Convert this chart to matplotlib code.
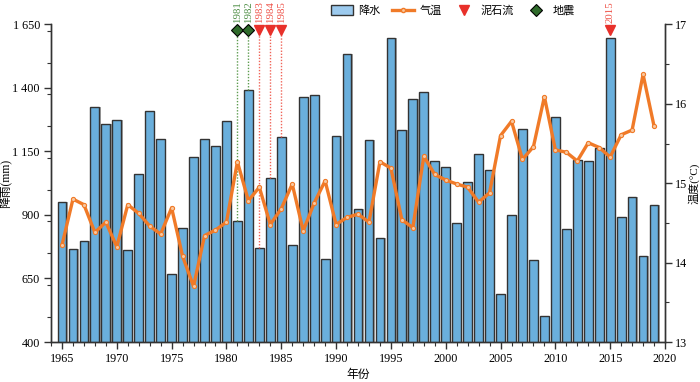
import numpy as np
import matplotlib
matplotlib.use("Agg")
import matplotlib.pyplot as plt
from matplotlib.patches import Patch
from matplotlib.lines import Line2D
from matplotlib.ticker import MultipleLocator

plt.rcParams["font.family"] = ["Liberation Serif", "Noto Sans CJK SC"]
plt.rcParams["axes.unicode_minus"] = False

# annual series 1965-2019
years = np.arange(1965, 2020)
rain = [952, 766, 797, 1325, 1258, 1274, 763, 1062, 1310, 1201,
        666, 849, 1129, 1200, 1173, 1270, 877, 1393, 771, 1047,
        1205, 782, 1363, 1373, 725, 1211, 1532, 925, 1195, 809,
        1597, 1235, 1356, 1384, 1112, 1087, 867, 1031, 1141, 1079,
        588, 901, 1238, 724, 504, 1284, 846, 1115, 1114, 1165,
        1597, 891, 969, 740, 938]
temp = [14.22, 14.80, 14.73, 14.38, 14.51, 14.20, 14.73, 14.62, 14.46, 14.36,
        14.69, 14.08, 13.70, 14.34, 14.41, 14.51, 15.27, 14.78, 14.95, 14.48,
        14.68, 14.99, 14.40, 14.75, 15.03, 14.48, 14.57, 14.61, 14.51, 15.27,
        15.19, 14.54, 14.44, 15.34, 15.11, 15.04, 14.99, 14.95, 14.76, 14.88,
        15.60, 15.78, 15.30, 15.46, 16.09, 15.42, 15.39, 15.28, 15.51, 15.45,
        15.33, 15.61, 15.67, 16.37, 15.72]

# events
quake_years = [1981, 1982]
flow_years = [1983, 1984, 1985, 2015]
event_level = 1628

rain_ticks = [400, 650, 900, 1150, 1400, 1650]
rain_tick_labels = ["400", "650", "900", "1 150", "1 400", "1 650"]
temp_ticks = [13, 14, 15, 16, 17]
year_ticks = [1965, 1970, 1975, 1980, 1985, 1990, 1995, 2000, 2005, 2010, 2015, 2020]

BAR = "#6AAFDC"
ORANGE = "#F07A28"
GREEN = "#2F6B2B"
GREEN_TXT = "#4E8E45"
RED = "#E8302A"
RED_TXT = "#EE5046"
TICK_FS = 8.7
LAB_FS = 8.5

fig = plt.figure(figsize=(7, 3.82), dpi=100)
ax = fig.add_axes([0.0729, 0.1047, 0.8771, 0.8313])
ax2 = ax.twinx()

rain_of = dict(zip(years, rain))

# bars with a thin grey shadow
ax.bar(years + 0.12, rain, width=0.8, color="#A8A8A8", zorder=1, linewidth=0)
ax.bar(years, rain, width=0.8, color=BAR, edgecolor="#333333", linewidth=1.0, zorder=2)

# event markers, dotted drop lines, year labels
for y in quake_years:
    ax.plot([y, y], [rain_of[y], event_level], ls=(0, (1, 1.2)), color="#5E9C50", lw=1.0, zorder=3)
    ax.plot(y, event_level, marker="D", ms=6, color=GREEN, mec="black", mew=0.8, zorder=5, clip_on=False)
    ax.annotate(str(y), (y, event_level), xytext=(0, 5), textcoords="offset points",
                rotation=90, ha="center", va="bottom", fontsize=7.8, color=GREEN_TXT,
                annotation_clip=False)
for y in flow_years:
    if rain_of[y] < event_level - 40:
        ax.plot([y, y], [rain_of[y], event_level], ls=(0, (1, 1.2)), color="#F06458", lw=1.0, zorder=3)
    ax.plot(y, event_level, marker="v", ms=7, color=RED, mec=RED, zorder=5, clip_on=False)
    ax.annotate(str(y), (y, event_level), xytext=(0, 5), textcoords="offset points",
                rotation=90, ha="center", va="bottom", fontsize=7.8, color=RED_TXT,
                annotation_clip=False)

# temperature line
ax2.plot(years, temp, color=ORANGE, lw=2.4, marker="o", ms=3, mfc="#F8C8A0",
         mec=ORANGE, mew=0.8, zorder=4)

ax.set_xlim(1964, 2020)
ax.set_ylim(400, 1650)
ax2.set_ylim(13, 17)

ax.set_xticks(year_ticks)
ax.xaxis.set_minor_locator(MultipleLocator(1))
ax.set_yticks(rain_ticks)
ax.set_yticklabels(rain_tick_labels)
ax.yaxis.set_minor_locator(MultipleLocator(125))
ax2.set_yticks(temp_ticks)
ax2.yaxis.set_minor_locator(MultipleLocator(0.5))

for a in (ax, ax2):
    a.spines["top"].set_visible(False)
    for s in a.spines.values():
        s.set_color("#333333")
        s.set_linewidth(1.0)
    a.tick_params(which="major", length=5, width=1, color="#333333", labelsize=TICK_FS, pad=3)
    a.tick_params(which="minor", length=3, width=0.8, color="#333333")
ax2.tick_params(which="major", pad=2)

ax.set_xlabel("年份", fontsize=LAB_FS, labelpad=3)
ax.set_ylabel("降雨(mm)", fontsize=LAB_FS)
ax2.set_ylabel("温度(°C)", fontsize=8, rotation=90)
ax.yaxis.set_label_coords(-0.063, 0.5)
ax2.yaxis.set_label_coords(1.037, 0.5)
ax2.set_zorder(ax.get_zorder() + 1)
ax2.patch.set_visible(False)

handles = [
    Patch(facecolor="#9CCAEE", edgecolor="#333333", linewidth=1.0),
    Line2D([], [], color=ORANGE, lw=2.4, marker="o", ms=3, mfc="#F8C8A0", mec=ORANGE),
    Line2D([], [], ls="none", marker="v", ms=7, color=RED),
    Line2D([], [], ls="none", marker="D", ms=6, color=GREEN, mec="black", mew=0.8),
]
fig.legend(handles, ["降水", "气温", "泥石流", "地震"], loc="center",
           bbox_to_anchor=(0.647, 0.972), ncol=4, frameon=False, fontsize=8,
           handlelength=2.0, handleheight=1.0, handletextpad=0.5, columnspacing=1.0)

fig.savefig("out.png", dpi=100)
